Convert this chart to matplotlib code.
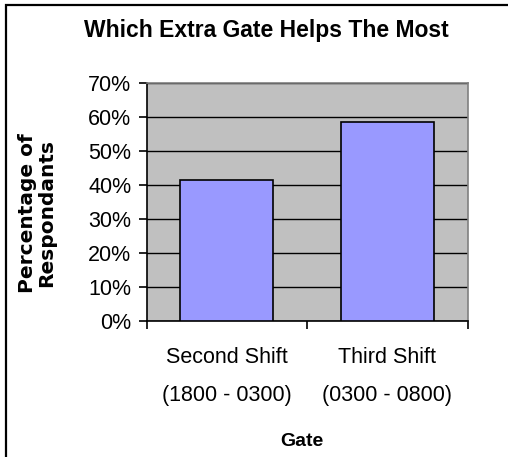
import matplotlib
matplotlib.use("Agg")
import matplotlib.pyplot as plt
from matplotlib.patches import Rectangle
from matplotlib.ticker import FuncFormatter, MultipleLocator

categories = ["Second Shift\n(1800 - 0300)", "Third Shift\n(0300 - 0800)"]
values = [41.5, 58.5]
title = "Which Extra Gate Helps The Most"
ylabel = "Percentage of\nRespondants"
xlabel = "Gate"

W, H = 508, 457
fig = plt.figure(figsize=(W / 100, H / 100), dpi=100)
fig.patch.set_facecolor("white")
plt.rcParams['font.family'] = ['Liberation Sans', 'DejaVu Sans']

# outer frame
fig.patches.append(Rectangle((6 / W, -0.02), 1.1, (H - 5) / H + 0.02, transform=fig.transFigure,
                             fill=False, edgecolor="black", linewidth=1.6))

left, right, top, bottom = 146.7, 467.7, 82.7, 320.7
ax = fig.add_axes([left / W, 1 - bottom / H, (right - left) / W, (bottom - top) / H])
ax.set_facecolor("#C0C0C0")

x = list(range(len(categories)))
ax.bar(x, values, width=0.58, color="#9999FF", edgecolor="black", linewidth=1.2, zorder=3)
ax.set_xlim(-0.5, 1.5)
ax.set_ylim(0, 70)
ax.yaxis.set_major_locator(MultipleLocator(10))
ax.yaxis.set_major_formatter(FuncFormatter(lambda v, p: f"{int(round(v))}%"))
ax.grid(axis="y", color="black", linewidth=1.0, zorder=1)
ax.set_axisbelow(True)

for s in ["top", "right"]:
    ax.spines[s].set_color("#808080")
    ax.spines[s].set_linewidth(1.2)
for s in ["left", "bottom"]:
    ax.spines[s].set_color("black")
    ax.spines[s].set_linewidth(1.2)

ax.set_xticks([-0.5, 0.5, 1.5])
ax.set_xticklabels([])
ax.tick_params(axis="x", direction="out", length=6, width=1.2, color="black")
ax.tick_params(axis="y", direction="out", length=6, width=1.2, color="black",
               labelsize=15.5, pad=5)

lab_y = (358 + 395) / 2
for xi, c in zip(x, categories):
    xf = (left + (xi + 0.5) / 2 * (right - left)) / W
    fig.text(xf, 1 - lab_y / H, c, ha="center", va="center", fontsize=15.5, linespacing=2.05)

fig.text(302 / W, 1 - 442 / H, xlabel, ha="center", va="center", fontsize=14, fontweight="bold")
fig.text(266 / W, 1 - 31 / H, title, ha="center", va="center", fontsize=16.5, fontweight="bold")
fig.text(37 / W, 1 - 213 / H, ylabel, ha="center", va="center", rotation=90,
         fontsize=14.5, fontweight="bold", linespacing=0.95, family="DejaVu Sans")

fig.savefig("out.png", dpi=100, facecolor="white")
